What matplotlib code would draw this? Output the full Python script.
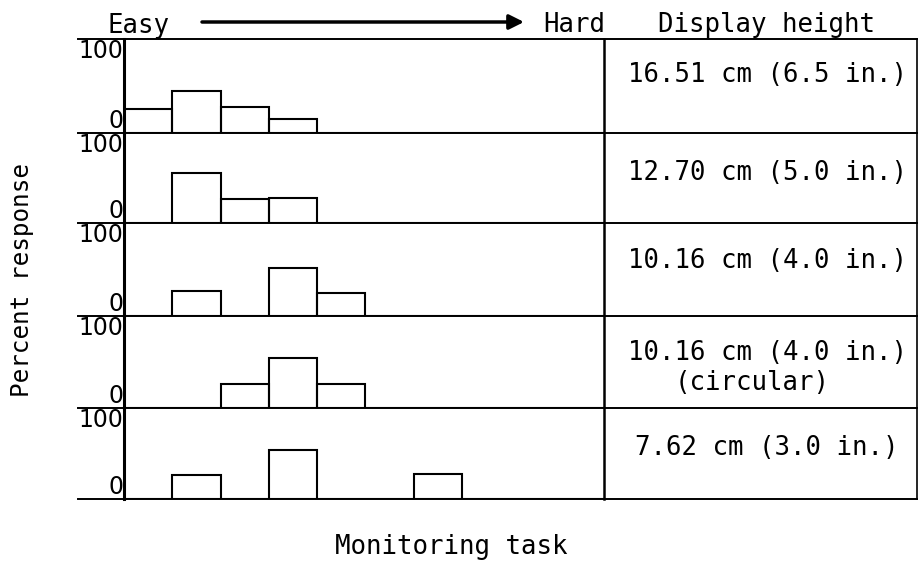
import matplotlib
matplotlib.use("Agg")
import matplotlib.pyplot as plt
from matplotlib.lines import Line2D

W, H = 919, 564

# task difficulty bins, 0 = easiest
bins = list(range(10))

# percent response per display
display_labels = [
    "16.51 cm (6.5 in.)",
    "12.70 cm (5.0 in.)",
    "10.16 cm (4.0 in.)",
    "10.16 cm (4.0 in.)",
    "7.62 cm (3.0 in.)",
]
resp_165 = [26, 45, 28, 15, 0, 0, 0, 0, 0, 0]
resp_127 = [0, 56, 27, 28, 0, 0, 0, 0, 0, 0]
resp_102 = [0, 27, 0, 52, 25, 0, 0, 0, 0, 0]
resp_102c = [0, 0, 26, 54, 26, 0, 0, 0, 0, 0]
resp_076 = [0, 26, 0, 54, 0, 0, 27, 0, 0, 0]
series = [resp_165, resp_127, resp_102, resp_102c, resp_076]


def fx(x):
    return x / W


def fy(y):
    return 1 - y / H


mono = "DejaVu Sans Mono"
fig = plt.figure(figsize=(W / 100, H / 100), dpi=100)

# row edges in pixels from top
rows = [39, 133, 223, 316, 408, 499]
x_axis, x_div, x_right = 124, 604, 917

for i, vals in enumerate(series):
    top, bot = rows[i], rows[i + 1]
    ax = fig.add_axes([fx(x_axis), fy(bot), (x_div - x_axis) / W, (bot - top) / H])
    ax.bar(bins, vals, width=1, align="edge", fill=False, edgecolor="black", linewidth=1.5)
    ax.set_xlim(0, 9.94)
    ax.set_ylim(0, 100)
    for s in ["top", "right", "bottom"]:
        ax.spines[s].set_visible(False)
    ax.spines["left"].set_linewidth(2.2)
    ax.set_xticks([])
    ax.set_yticks([])
    tr = ax.get_yaxis_transform()
    ax.text(-0.001, 0, "0", transform=tr, ha="right", va="bottom", fontsize=17)
    ax.text(-0.001, 100, "100", transform=tr, ha="right", va="top", fontsize=17)
    ax.patch.set_alpha(0)

# table lines
for y in rows:
    fig.add_artist(Line2D([fx(78), fx(x_right)], [fy(y), fy(y)], color="black", lw=1.4))
fig.add_artist(Line2D([fx(x_div), fx(x_div)], [fy(rows[0]), fy(rows[-1])], color="black", lw=1.8))
fig.add_artist(Line2D([fx(x_right), fx(x_right)], [fy(rows[0]), fy(rows[-1])], color="black", lw=1.2))

# right column labels
baselines = [82, 180, 268, 360, 455]
for lab, yb in zip(display_labels, baselines):
    fig.text(fx(767), fy(yb), lab, ha="center", va="baseline", fontsize=18.5, family=mono)
fig.text(fx(752), fy(390), "(circular)", ha="center", va="baseline", fontsize=18.5, family=mono)

# header
fig.text(fx(108), fy(33), "Easy", ha="left", va="baseline", fontsize=18.5, family=mono)
fig.text(fx(543), fy(32), "Hard", ha="left", va="baseline", fontsize=18.5, family=mono)
fig.text(fx(767), fy(32), "Display height", ha="center", va="baseline", fontsize=18.5, family=mono)
fig.add_artist(plt.Annotation("", xy=(fx(524), fy(22)), xytext=(fx(202), fy(22)),
                              xycoords="figure fraction", textcoords="figure fraction",
                              arrowprops=dict(arrowstyle="-|>", lw=2.5, color="black",
                                              mutation_scale=22, shrinkA=0, shrinkB=0)))

# axis titles
fig.text(fx(22), fy(280), "Percent response", rotation=90, ha="center", va="center",
         fontsize=17.5, family=mono)
fig.text(fx(451), fy(547), "Monitoring task", ha="center", va="center", fontsize=18.5, family=mono)

fig.savefig("out.png", dpi=100)
